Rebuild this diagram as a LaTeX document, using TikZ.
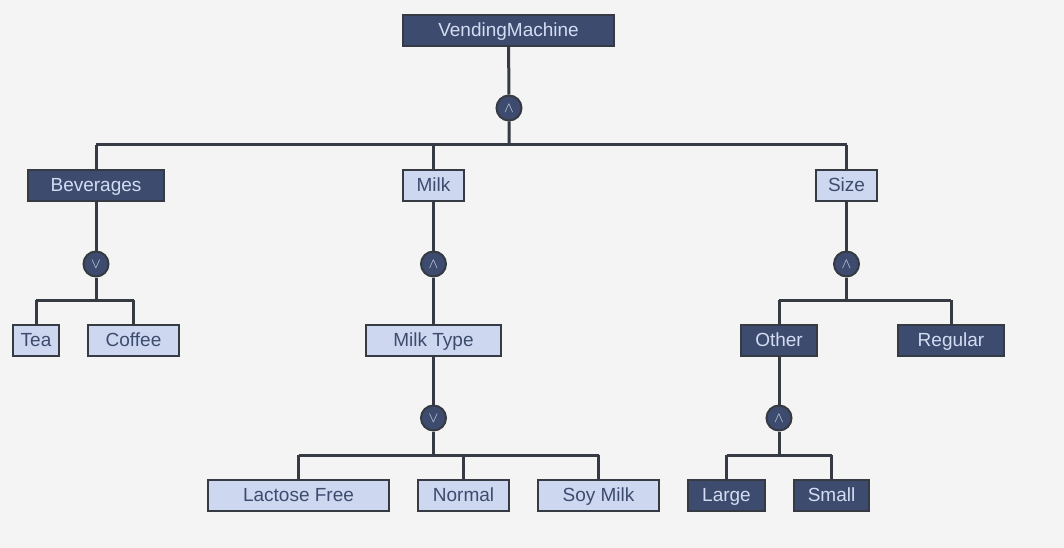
\documentclass[tikz,border=0pt]{standalone}
\usepackage{fontspec}
\setmainfont{Liberation Sans}
\usetikzlibrary{backgrounds}
\definecolor{bgc}{HTML}{F4F4F4}
\definecolor{darkf}{HTML}{3D4B6E}
\definecolor{lightf}{HTML}{CDD8F0}
\definecolor{edgec}{HTML}{363A42}
\definecolor{darkt}{HTML}{D3DCF2}
\definecolor{lightt}{HTML}{3D4B6E}
\tikzset{
  box/.style={rectangle, draw=edgec, line width=2pt, minimum height=31pt, inner sep=0pt,
    text height=13.5pt, text depth=1pt,
    font=\fontsize{19}{22}\selectfont},
  dbox/.style={box, fill=darkf, text=darkt},
  lbox/.style={box, fill=lightf, text=lightt},
  andc/.style={circle, draw=edgec, line width=2pt, fill=darkf, text=darkt, minimum size=25pt, inner sep=0pt},
  conn/.style={draw=edgec, line width=3pt},
}
\newcommand{\andsym}{\scalebox{1.45}{$\wedge$}}
\newcommand{\orsym}{\scalebox{1.45}{$\vee$}}
\begin{document}
\begin{tikzpicture}[x=1pt,y=-1pt]
\begin{scope}[on background layer]
\fill[bgc] (0,0) rectangle (1064,548);
\end{scope}
\useasboundingbox (0,0) rectangle (1064,548);
% nodes
\node[dbox, minimum width=211pt] (vm) at (508.5,30.5) {VendingMachine};
\node[andc] (g1) at (509,108) {\andsym};
\node[dbox, minimum width=136pt] (bev) at (96,185.5) {Beverages};
\node[lbox, minimum width=61pt] (milk) at (433.5,185.5) {Milk};
\node[lbox, minimum width=61pt] (size) at (846.5,185.5) {Size};
\node[andc] (g2) at (96,264) {\orsym};
\node[lbox, minimum width=46pt] (tea) at (36,340.5) {Tea};
\node[lbox, minimum width=91pt] (coffee) at (133.5,340.5) {Coffee};
\node[andc] (g3) at (433.5,264) {\andsym};
\node[lbox, minimum width=135pt] (mtype) at (433.5,340.5) {Milk Type};
\node[andc] (g4) at (433.5,418) {\orsym};
\node[lbox, minimum width=181pt] (lf) at (298.5,495.5) {Lactose Free};
\node[lbox, minimum width=91pt] (normal) at (463.5,495.5) {Normal};
\node[lbox, minimum width=121pt] (soy) at (598.5,495.5) {Soy Milk};
\node[andc] (g5) at (846.5,264) {\andsym};
\node[dbox, minimum width=76pt] (other) at (779,340.5) {Other};
\node[dbox, minimum width=106pt] (regular) at (951,340.5) {Regular};
\node[andc] (g6) at (779,418) {\andsym};
\node[dbox, minimum width=77pt] (large) at (726.5,495.5) {Large};
\node[dbox, minimum width=75pt] (small) at (831.5,495.5) {Small};
% bar coordinates
\coordinate (b1) at (509,145);
\coordinate (b2) at (96,300);
\coordinate (b4) at (433.5,455);
\coordinate (b5) at (846.5,300);
\coordinate (b6) at (779,455);
\begin{scope}[on background layer]
\draw[conn] (vm) -- (g1) -- (b1);
\draw[conn] (b1 -| bev) -- (b1 -| size);
\draw[conn] (b1 -| bev) -- (bev);
\draw[conn] (b1 -| milk) -- (milk);
\draw[conn] (b1 -| size) -- (size);
\draw[conn] (bev) -- (g2) -- (b2);
\draw[conn] (b2 -| tea) -- (b2 -| coffee);
\draw[conn] (b2 -| tea) -- (tea);
\draw[conn] (b2 -| coffee) -- (coffee);
\draw[conn] (milk) -- (g3) -- (mtype);
\draw[conn] (mtype) -- (g4) -- (b4);
\draw[conn] (b4 -| lf) -- (b4 -| soy);
\draw[conn] (b4 -| lf) -- (lf);
\draw[conn] (b4 -| normal) -- (normal);
\draw[conn] (b4 -| soy) -- (soy);
\draw[conn] (size) -- (g5) -- (b5);
\draw[conn] (b5 -| other) -- (b5 -| regular);
\draw[conn] (b5 -| other) -- (other);
\draw[conn] (b5 -| regular) -- (regular);
\draw[conn] (other) -- (g6) -- (b6);
\draw[conn] (b6 -| large) -- (b6 -| small);
\draw[conn] (b6 -| large) -- (large);
\draw[conn] (b6 -| small) -- (small);
\end{scope}
\end{tikzpicture}
\end{document}
